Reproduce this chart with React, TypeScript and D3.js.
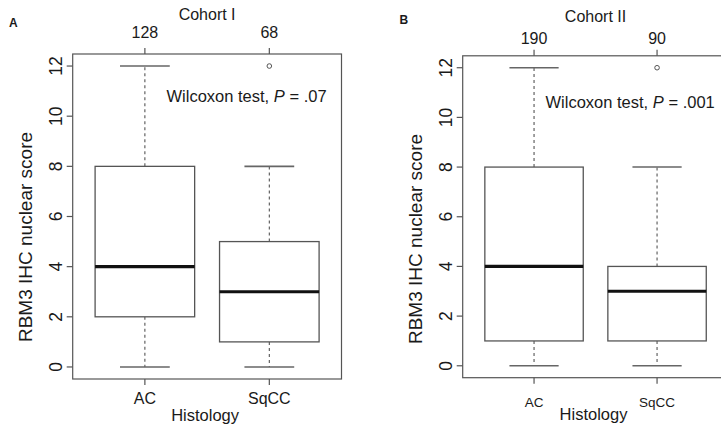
import * as d3 from 'd3';
import React from 'react';

// histology groups and box statistics
const groups = ['AC', 'SqCC'];
const statsCohort1 = [
  { min: 0, q1: 2, median: 4, q3: 8, max: 12, outliers: [] as number[] },
  { min: 0, q1: 1, median: 3, q3: 5, max: 8, outliers: [12] },
];
const statsCohort2 = [
  { min: 0, q1: 1, median: 4, q3: 8, max: 12, outliers: [] as number[] },
  { min: 0, q1: 1, median: 3, q3: 4, max: 8, outliers: [12] },
];
const countsCohort1 = [128, 68];
const countsCohort2 = [190, 90];
const yTicks = [0, 2, 4, 6, 8, 10, 12];

const FONT = '"Liberation Sans", Arial, Helvetica, sans-serif';
const TEXT = '#1a1a1a';
const GREY = '#555';

type Stats = { min: number; q1: number; median: number; q3: number; max: number; outliers: number[] };

type PanelProps = {
  letter: string;
  letterPos: [number, number];
  title: string;
  titleY: number;
  counts: number[];
  stats: Stats[];
  pval: string;
  frame: { left: number; right: number; top: number; bottom: number };
  countY: number;
  wilcox: [number, number];
  catY: number;
  catSize: number;
  xlabY: number;
  ylab: { x: number; y: number };
  yTickX: number;
};

function Panel(p: PanelProps) {
  const x = d3.scaleLinear().domain([0.42, 2.58]).range([p.frame.left, p.frame.right]);
  const y = d3.scaleLinear().domain([-0.48, 12.48]).range([p.frame.bottom, p.frame.top]);
  const boxW = x(1.4) - x(1);
  const capW = x(1.2) - x(1);
  const midX = (p.frame.left + p.frame.right) / 2;

  return (
    <g fontFamily={FONT} fill={TEXT}>
      <text x={p.letterPos[0]} y={p.letterPos[1]} fontSize={12} fontWeight="bold">{p.letter}</text>
      <text x={midX} y={p.titleY} fontSize={16} textAnchor="middle">{p.title}</text>

      {/* frame */}
      <rect x={p.frame.left} y={p.frame.top} width={p.frame.right - p.frame.left}
        height={p.frame.bottom - p.frame.top} fill="none" stroke={GREY} strokeWidth={1.2} />

      {/* y axis */}
      {yTicks.map(t => (
        <g key={t}>
          <line x1={p.frame.left - 6} x2={p.frame.left} y1={y(t)} y2={y(t)} stroke={GREY} strokeWidth={1.2} />
          <text transform={`translate(${p.yTickX},${y(t)}) rotate(-90)`} fontSize={17.5} textAnchor="middle">{t}</text>
        </g>
      ))}
      <text transform={`translate(${p.ylab.x},${p.ylab.y}) rotate(-90)`} fontSize={19} textAnchor="middle">
        RBM3 IHC nuclear score
      </text>

      {/* top axis with group sizes, bottom axis with groups */}
      {groups.map((g, i) => (
        <g key={g}>
          <line x1={x(i + 1)} x2={x(i + 1)} y1={p.frame.top - 6} y2={p.frame.top} stroke={GREY} strokeWidth={1.2} />
          <text x={x(i + 1)} y={p.countY} fontSize={16} textAnchor="middle">{p.counts[i]}</text>
          <line x1={x(i + 1)} x2={x(i + 1)} y1={p.frame.bottom} y2={p.frame.bottom + 6} stroke={GREY} strokeWidth={1.2} />
          <text x={x(i + 1)} y={p.catY} fontSize={p.catSize} textAnchor="middle">{g}</text>
        </g>
      ))}
      <text x={midX - 2} y={p.xlabY} fontSize={16.5} textAnchor="middle">Histology</text>

      {/* boxes */}
      {p.stats.map((s, i) => {
        const cx = x(i + 1);
        return (
          <g key={i}>
            <line x1={cx} x2={cx} y1={y(s.q3)} y2={y(s.max)} stroke={GREY} strokeWidth={1.1} strokeDasharray="3,3" />
            <line x1={cx} x2={cx} y1={y(s.q1)} y2={y(s.min)} stroke={GREY} strokeWidth={1.1} strokeDasharray="3,3" />
            <line x1={cx - capW} x2={cx + capW} y1={y(s.max)} y2={y(s.max)} stroke="#666" strokeWidth={1.6} />
            <line x1={cx - capW} x2={cx + capW} y1={y(s.min)} y2={y(s.min)} stroke="#666" strokeWidth={1.6} />
            <rect x={cx - boxW} y={y(s.q3)} width={boxW * 2} height={y(s.q1) - y(s.q3)}
              fill="white" stroke={GREY} strokeWidth={1.3} />
            <line x1={cx - boxW} x2={cx + boxW} y1={y(s.median)} y2={y(s.median)} stroke="#111" strokeWidth={3.2} />
            {s.outliers.map((o, k) => (
              <circle key={k} cx={cx} cy={y(o)} r={2.3} fill="none" stroke={GREY} strokeWidth={1} />
            ))}
          </g>
        );
      })}

      <text x={p.wilcox[0]} y={p.wilcox[1]} fontSize={16.5}>
        Wilcoxon test, <tspan fontStyle="italic">P</tspan> = {p.pval}
      </text>
    </g>
  );
}

export default function App() {
  return (
    <svg width={721} height={427} style={{ position: 'absolute', left: 0, top: 0, background: 'white' }}>
      <Panel
        letter="A" letterPos={[9, 27]} title="Cohort I" titleY={20}
        counts={countsCohort1} stats={statsCohort1} pval=".07"
        frame={{ left: 72.7, right: 341.5, top: 54, bottom: 379 }}
        countY={38} wilcox={[166.5, 101.7]} catY={403.5} catSize={16}
        xlabY={421} ylab={{ x: 32, y: 237 }} yTickX={62}
      />
      <Panel
        letter="B" letterPos={[399.5, 24]} title="Cohort II" titleY={21.7}
        counts={countsCohort2} stats={statsCohort2} pval=".001"
        frame={{ left: 462.7, right: 728.4, top: 55.8, bottom: 377.7 }}
        countY={44} wilcox={[545.5, 108.3]} catY={406.7} catSize={13.5}
        xlabY={419.5} ylab={{ x: 421.7, y: 239 }} yTickX={452}
      />
    </svg>
  );
}
